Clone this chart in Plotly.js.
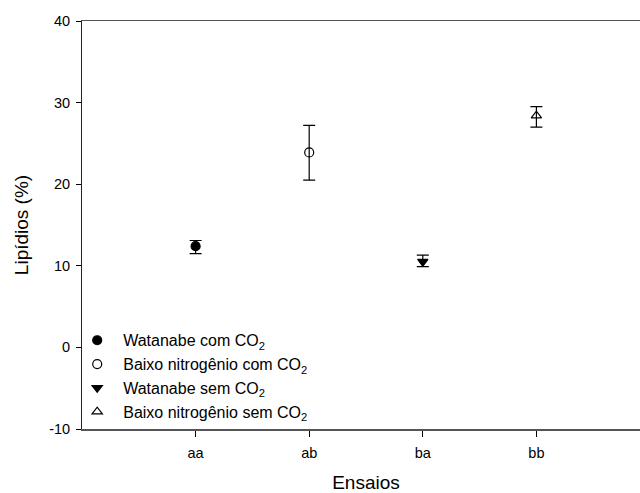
<!DOCTYPE html>
<html>
<head>
<meta charset="utf-8">
<script src="https://cdn.plot.ly/plotly-3.0.1.min.js"></script>
<style>html,body{margin:0;padding:0;background:#fff;overflow:hidden;}#chart{width:650px;height:493px;}</style>
</head>
<body>
<div id="chart"></div>
<script>
const categories = ["aa", "ab", "ba", "bb"];
const positions = [1, 2, 3, 4];
const seriesNames = ["Watanabe com CO<sub>2</sub>", "Baixo nitrogênio com CO<sub>2</sub>", "Watanabe sem CO<sub>2</sub>", "Baixo nitrogênio sem CO<sub>2</sub>"];
const means = [12.4, 23.9, 10.5, 28.4];
const errPlus = [0.7, 3.3, 0.8, 1.1];
const errMinus = [0.9, 3.4, 0.6, 1.4];
const symbols = ["circle", "circle-open", "triangle-down", "triangle-up-open"];
const yTickVals = [-10, 0, 10, 20, 30, 40];
const yTickText = ["-10", "0", "10", "20", "30", "40"];

const traces = categories.map((c, i) => ({
  type: "scatter",
  mode: "markers",
  name: seriesNames[i],
  x: [positions[i]],
  y: [means[i]],
  marker: {symbol: symbols[i], size: 9, color: "#000", line: {color: "#000", width: 1.2}},
  error_y: {type: "data", symmetric: false, array: [errPlus[i]], arrayminus: [errMinus[i]], color: "#000", thickness: 1.2, width: 6}
}));

const font = "Liberation Sans, Arial, sans-serif";
const layout = {
  width: 650, height: 493,
  margin: {l: 82, r: 0, t: 21, b: 64},
  paper_bgcolor: "#fff", plot_bgcolor: "#fff",
  font: {family: font, color: "#000", size: 14.5},
  showlegend: true,
  legend: {x: -0.019, xanchor: "left", y: 0.259, yanchor: "top", bgcolor: "rgba(0,0,0,0)", font: {size: 16, family: font}, itemwidth: 42, tracegroupgap: 0},
  xaxis: {
    range: [0, 5], tickmode: "array", tickvals: positions, ticktext: categories,
    ticks: "outside", ticklen: 6, tickcolor: "#000", ticklabelstandoff: 4, showgrid: false, zeroline: false,
    showline: true, linecolor: "#555", linewidth: 1.5, mirror: true,
    title: {text: "Ensaios", font: {size: 19, family: font}, standoff: 24}
  },
  yaxis: {
    range: [-10, 40], tickmode: "array", tickvals: yTickVals, ticktext: yTickText,
    ticks: "outside", ticklen: 5, tickcolor: "#000", ticklabelstandoff: 3, showgrid: false, zeroline: false,
    showline: true, linecolor: "#222", linewidth: 1,
    title: {text: "Lipídios (%)", font: {size: 19, family: font}, standoff: 15}
  }
};
Plotly.newPlot("chart", traces, layout, {staticPlot: true});
</script>
</body>
</html>
